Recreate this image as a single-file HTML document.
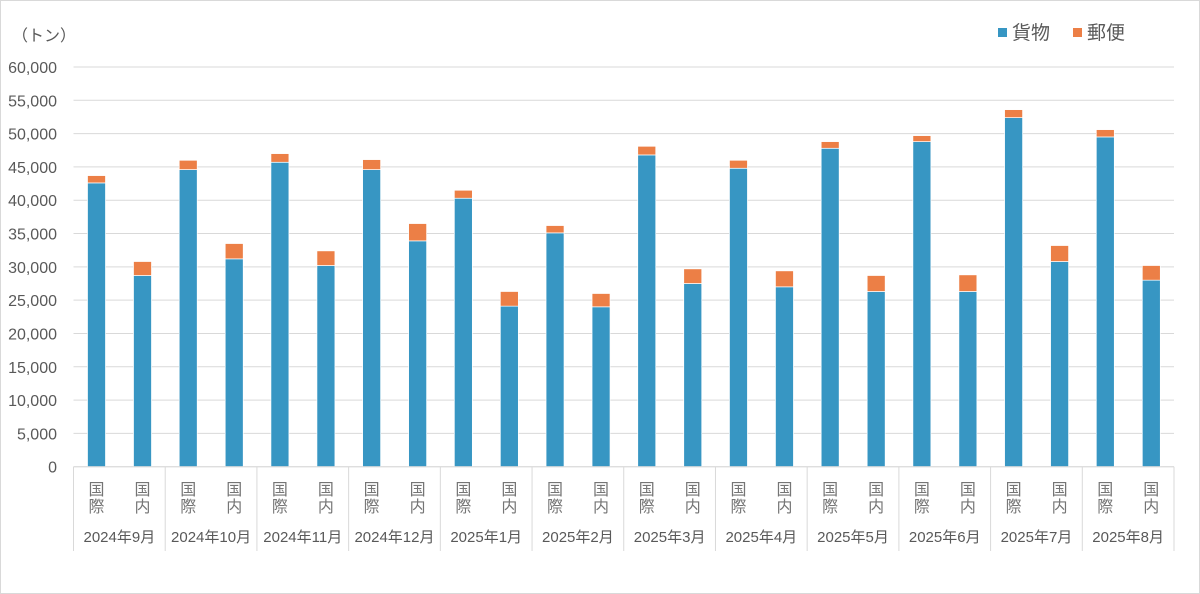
<!DOCTYPE html>
<html><head><meta charset="utf-8"><style>
body{margin:0;background:#fff}
svg{display:block;font-family:"Liberation Sans","Noto Sans CJK JP",sans-serif}
</style></head><body>
<svg id="c" width="1200" height="594" xmlns="http://www.w3.org/2000/svg"></svg>
<script>
const s=document.getElementById('c');let h='';
h+='<rect x="0.5" y="0.5" width="1199" height="593" fill="#fff" stroke="#d9d9d9"/>';
const y0=466.7,k=399.7/60000;
for(let i=0;i<=12;i++){const v=i*5000,y=y0-v*k;
 h+=`<line x1="73.5" x2="1174" y1="${y}" y2="${y}" stroke="#d9d9d9" stroke-width="1"/>`;
 h+=`<text x="57" y="${y+6}" text-anchor="end" font-size="16" fill="#595959">${v.toLocaleString('en-US')}</text>`;}
h+=`<text x="12" y="41" font-size="16" fill="#595959">（トン）</text>`;
const d=[[42600,43700,28700,30800],[44600,46000,31200,33500],[45700,47000,30200,32400],[44600,46100,33900,36500],[40300,41500,24100,26300],[35100,36200,24000,26000],[46800,48100,27500,29700],[44800,46000,27000,29400],[47800,48800,26300,28700],[48800,49700,26300,28800],[52400,53600,30800,33200],[49500,50600,28000,30200]];
const L=['2024年9月','2024年10月','2024年11月','2024年12月','2025年1月','2025年2月','2025年3月','2025年4月','2025年5月','2025年6月','2025年7月','2025年8月'];
const gw=(1174-73.5)/12;
for(let g=0;g<12;g++){const gx=73.5+g*gw;
 h+=`<line x1="${gx}" x2="${gx}" y1="${y0}" y2="551" stroke="#d9d9d9"/>`;
 [[0,1,23],[2,3,69]].forEach(([a,b,o])=>{const cx=gx+o;
  const yc=y0-d[g][a]*k,yt=y0-d[g][b]*k;
  h+=`<rect x="${cx-9}" y="${yc}" width="18" height="${y0-yc}" fill="#3796c3" stroke="#fff" stroke-width="0.7"/>`;
  h+=`<rect x="${cx-9}" y="${yt}" width="18" height="${yc-yt}" fill="#ec7f46" stroke="#fff" stroke-width="0.7"/>`;
  const t=o==23?['国','際']:['国','内'];
  h+=`<text x="${cx}" y="495" text-anchor="middle" font-size="16" fill="#757575">${t[0]}</text><text x="${cx}" y="512" text-anchor="middle" font-size="16" fill="#757575">${t[1]}</text>`;
 });
 h+=`<text x="${gx+gw/2}" y="542" text-anchor="middle" font-size="15" fill="#595959">${L[g]}</text>`;
}
h+=`<line x1="1174" x2="1174" y1="${y0}" y2="551" stroke="#d9d9d9"/>`;
h+=`<line x1="73.5" x2="1174" y1="${y0}" y2="${y0}" stroke="#d9d9d9"/>`;
h+=`<rect x="998" y="28" width="9" height="9" fill="#3796c3"/><text x="1012" y="39" font-size="19" fill="#595959">貨物</text>`;
h+=`<rect x="1073" y="28" width="9" height="9" fill="#ec7f46"/><text x="1087" y="39" font-size="19" fill="#595959">郵便</text>`;
s.innerHTML=h;
</script>
</body></html>
